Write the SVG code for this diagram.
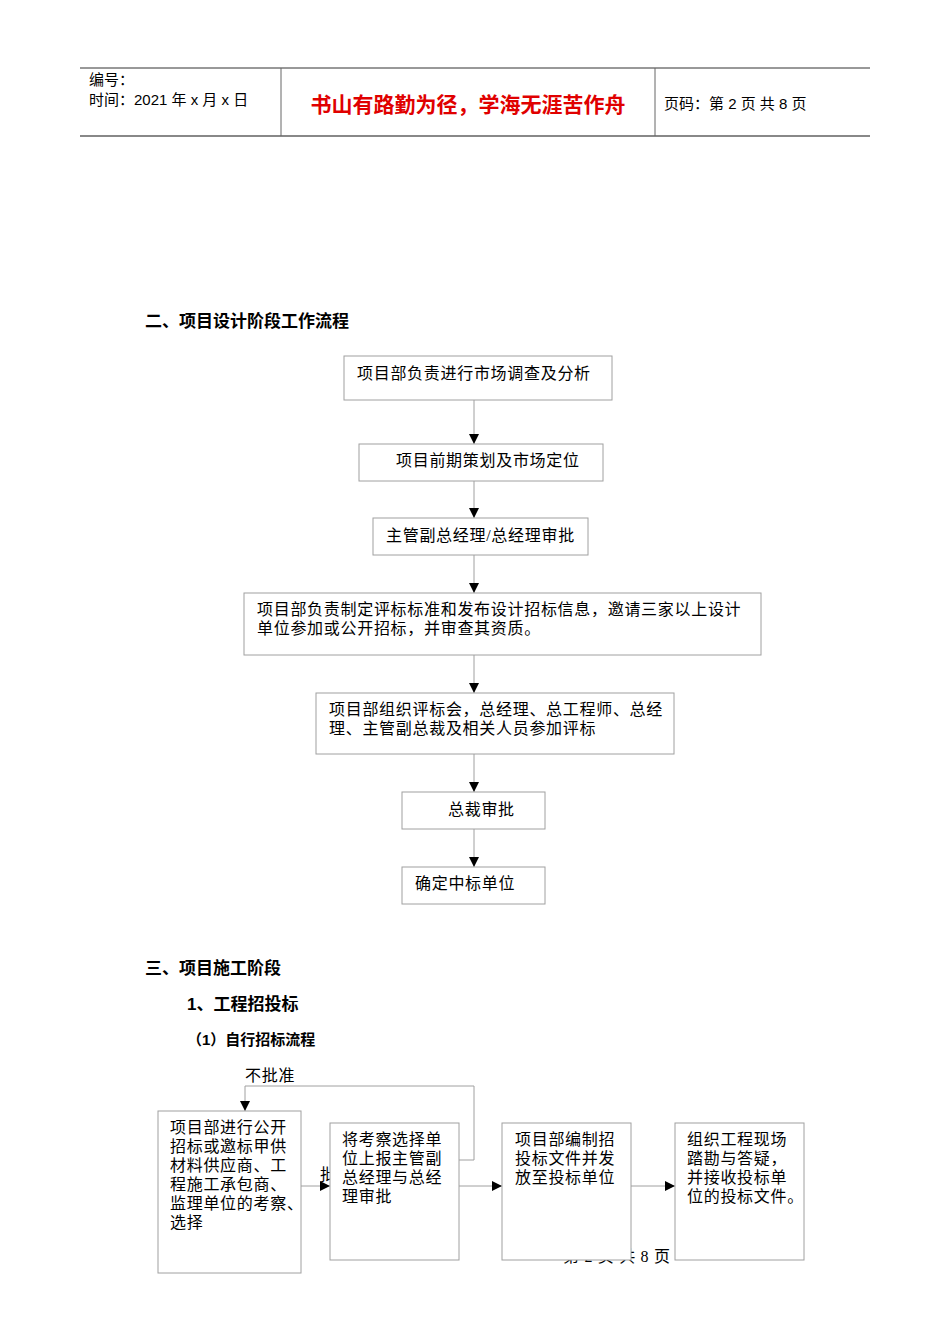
<svg xmlns="http://www.w3.org/2000/svg" width="950" height="1344" viewBox="0 0 950 1344">
<defs>
<style>
.b{fill:#fff;stroke:#a0a0a0;stroke-width:1}
.t{font-family:"Liberation Serif","Noto Sans CJK SC",serif;font-size:16px;letter-spacing:0.7px;fill:#000}
.h{font-family:"Liberation Sans","Noto Sans CJK SC",sans-serif;font-size:17px;font-weight:bold;fill:#000}
.l{stroke:#a0a0a0;stroke-width:1;fill:none}
</style>
<marker id="a" viewBox="0 0 10 10" refX="10" refY="5" markerWidth="10" markerHeight="10" markerUnits="userSpaceOnUse" orient="auto"><path d="M0,0L10,5L0,10z" fill="#000"/></marker>
</defs>
<rect width="950" height="1344" fill="#fff"/>
<g id="header">
<line x1="80" y1="68" x2="870" y2="68" stroke="#333" stroke-width="1"/>
<line x1="80" y1="136" x2="870" y2="136" stroke="#888" stroke-width="2"/>
<line x1="281" y1="68" x2="281" y2="136" stroke="#666"/>
<line x1="655" y1="68" x2="655" y2="136" stroke="#666"/>
<text x="89" y="85" font-family="Liberation Sans,Noto Sans CJK SC,sans-serif" font-size="15">编号：</text>
<text x="89" y="105" font-family="Liberation Sans,Noto Sans CJK SC,sans-serif" font-size="15">时间：2021 年 x 月 x 日</text>
<text x="468" y="112" text-anchor="middle" font-family="Liberation Sans,Noto Sans CJK SC,sans-serif" font-size="21" font-weight="bold" fill="#e00000">书山有路勤为径，学海无涯苦作舟</text>
<text x="664" y="109" font-family="Liberation Sans,Noto Sans CJK SC,sans-serif" font-size="15">页码：第 2 页  共 8 页</text>
</g>
<text class="h" x="145" y="327">二、项目设计阶段工作流程</text>
<text class="h" x="145" y="974">三、项目施工阶段</text>
<text class="h" x="187" y="1010">1、工程招投标</text>
<text x="187" y="1045" font-family="Liberation Sans,Noto Sans CJK SC,sans-serif" font-size="15" font-weight="bold">（1）自行招标流程</text>
<text class="t" x="563" y="1262">第 2 页 共 8 页</text>
<text class="t" x="320" y="1180">批</text>
<g id="connectors">
<line class="l" x1="474" y1="400" x2="474" y2="444" marker-end="url(#a)"/>
<line class="l" x1="474" y1="481" x2="474" y2="518" marker-end="url(#a)"/>
<line class="l" x1="474" y1="555" x2="474" y2="593" marker-end="url(#a)"/>
<line class="l" x1="474" y1="655" x2="474" y2="693" marker-end="url(#a)"/>
<line class="l" x1="474" y1="754" x2="474" y2="792" marker-end="url(#a)"/>
<line class="l" x1="474" y1="829" x2="474" y2="867" marker-end="url(#a)"/>
<line class="l" x1="301" y1="1186" x2="330" y2="1186" marker-end="url(#a)"/>
<line class="l" x1="459" y1="1186" x2="502" y2="1186" marker-end="url(#a)"/>
<line class="l" x1="631" y1="1186" x2="675" y2="1186" marker-end="url(#a)"/>
<path class="l" d="M459,1160H474V1086H245V1111" marker-end="url(#a)"/>
<text class="t" x="245" y="1081">不批准</text>
</g>
<g id="n1"><rect class="b" x="344" y="356" width="268" height="44"/><text class="t" x="357" y="379">项目部负责进行市场调查及分析</text></g>
<g id="n2"><rect class="b" x="359" y="444" width="244" height="37"/><text class="t" x="396" y="466">项目前期策划及市场定位</text></g>
<g id="n3"><rect class="b" x="373" y="518" width="215" height="37"/><text class="t" x="386" y="541">主管副总经理/总经理审批</text></g>
<g id="n4"><rect class="b" x="244" y="593" width="517" height="62"/><text class="t" x="257" y="615">项目部负责制定评标标准和发布设计招标信息，邀请三家以上设计</text><text class="t" x="257" y="634">单位参加或公开招标，并审查其资质。</text></g>
<g id="n5"><rect class="b" x="316" y="693" width="358" height="61"/><text class="t" x="329" y="715">项目部组织评标会，总经理、总工程师、总经</text><text class="t" x="329" y="734">理、主管副总裁及相关人员参加评标</text></g>
<g id="n6"><rect class="b" x="402" y="792" width="143" height="37"/><text class="t" x="448" y="815">总裁审批</text></g>
<g id="n7"><rect class="b" x="402" y="867" width="143" height="37"/><text class="t" x="415" y="889">确定中标单位</text></g>
<g id="nA"><rect class="b" x="158" y="1111" width="143" height="162"/>
<text class="t" x="170" y="1133">项目部进行公开</text><text class="t" x="170" y="1152">招标或邀标甲供</text><text class="t" x="170" y="1171">材料供应商、工</text><text class="t" x="170" y="1190">程施工承包商、</text><text class="t" x="170" y="1209">监理单位的考察、</text><text class="t" x="170" y="1228">选择</text></g>
<g id="nB"><rect class="b" x="330" y="1123" width="129" height="137"/>
<text class="t" x="342" y="1145">将考察选择单</text><text class="t" x="342" y="1164">位上报主管副</text><text class="t" x="342" y="1183">总经理与总经</text><text class="t" x="342" y="1202">理审批</text></g>
<g id="nC"><rect class="b" x="502" y="1123" width="129" height="137"/>
<text class="t" x="515" y="1145">项目部编制招</text><text class="t" x="515" y="1164">投标文件并发</text><text class="t" x="515" y="1183">放至投标单位</text></g>
<g id="nD"><rect class="b" x="675" y="1123" width="129" height="137"/>
<text class="t" x="687" y="1145">组织工程现场</text><text class="t" x="687" y="1164">踏勘与答疑，</text><text class="t" x="687" y="1183">并接收投标单</text><text class="t" x="687" y="1202">位的投标文件。</text></g>
</svg>
